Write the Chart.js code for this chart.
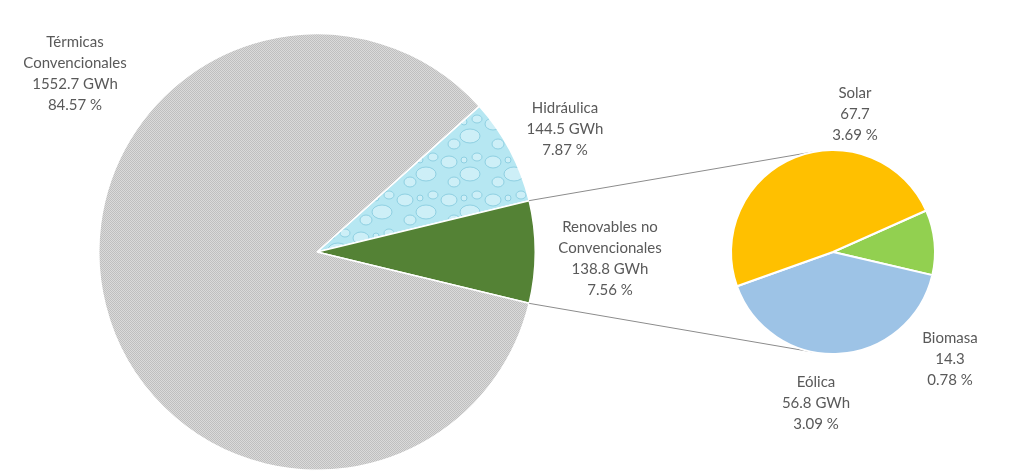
<!DOCTYPE html>
<html>
<head>
<meta charset="utf-8">
<script src="https://cdn.jsdelivr.net/npm/chart.js@4.4.1/dist/chart.umd.min.js"></script>
<style>
  html, body { margin: 0; padding: 0; background: #fff; }
  #wrap { position: relative; width: 1024px; height: 472px; }
  #wrap canvas { position: absolute; left: 0; top: 0; }
</style>
</head>
<body>
<div id="wrap">
  <canvas id="main-pie" width="1024" height="472"></canvas>
  <canvas id="sub-pie" width="1024" height="472"></canvas>
</div>
<script>
const mainLabels = ["Hidráulica", ["Renovables no", "Convencionales"], ["Térmicas", "Convencionales"]];
const mainValues = [144.5, 138.8, 1552.7];
const subLabels = ["Biomasa", "Eólica", "Solar"];
const subValues = [14.3, 56.8, 67.7];
const subUnits = ["", " GWh", ""];

const total = mainValues.reduce((a, b) => a + b, 0);

// where each text block sits (centre x, first line y)
const mainSpots = [[565, 108], [610, 227], [75, 42]];
const subSpots = [[950, 338], [816, 382], [855, 93]];
const lineStep = 21;

const dotPattern = () => {
  const c = document.createElement("canvas");
  c.width = 2;
  c.height = 2;
  const g = c.getContext("2d");
  g.fillStyle = "#dadada";
  g.fillRect(0, 0, 2, 2);
  g.fillStyle = "#bfbfbf";
  g.fillRect(0, 0, 1, 1);
  g.fillRect(1, 1, 1, 1);
  return g.createPattern(c, "repeat");
};

const waterPattern = () => {
  const c = document.createElement("canvas");
  c.width = 44;
  c.height = 38;
  const g = c.getContext("2d");
  g.fillStyle = "#b6e7f2";
  g.fillRect(0, 0, 44, 38);
  const drops = [[9, 10, 8, 6], [30, 22, 10, 7], [14, 30, 6, 5], [37, 5, 5, 4], [24, 8, 3, 3]];
  drops.forEach(([x, y, rx, ry]) => {
    g.beginPath();
    g.ellipse(x, y, rx, ry, 0, 0, Math.PI * 2);
    g.fillStyle = "#cdeff7";
    g.fill();
    g.strokeStyle = "#8fd0e2";
    g.lineWidth = 1;
    g.stroke();
  });
  return g.createPattern(c, "repeat");
};

const textPlugin = (spots, linesFor) => ({
  id: "sliceText",
  afterDraw(chart) {
    const ctx = chart.ctx;
    ctx.save();
    ctx.font = "15px Lato";
    ctx.fillStyle = "#595959";
    ctx.textAlign = "center";
    ctx.textBaseline = "middle";
    spots.forEach(([x, y], i) => {
      linesFor(i).forEach((line, k) => {
        ctx.fillText(line, x, y + k * lineStep);
      });
    });
    ctx.restore();
  },
});

const pct = (v) => (v / total * 100).toFixed(2) + " %";

// the "Renovables" slice is centred on the right side, like Excel's pie of pie
const renovAngle = mainValues[1] / total * 360;
const hidroAngle = mainValues[0] / total * 360;
const mainRotation = 90 - renovAngle / 2 - hidroAngle;

const mainChart = new Chart(document.getElementById("main-pie"), {
  type: "pie",
  data: {
    labels: mainLabels,
    datasets: [
      {
        data: mainValues,
        backgroundColor: [waterPattern(), "#548235", dotPattern()],
        borderColor: "#ffffff",
        borderWidth: 1.5,
      },
    ],
  },
  options: {
    responsive: false,
    animation: false,
    rotation: mainRotation,
    layout: { padding: { left: 98, right: 488, top: 33, bottom: 1 } },
    plugins: { legend: { display: false }, tooltip: { enabled: false } },
  },
  plugins: [
    textPlugin(mainSpots, (i) => {
      const name = Array.isArray(mainLabels[i]) ? mainLabels[i] : [mainLabels[i]];
      return [...name, mainValues[i].toFixed(1) + " GWh", pct(mainValues[i])];
    }),
  ],
});

const connectorPlugin = {
  id: "connector",
  beforeDatasetsDraw(chart) {
    const src = mainChart.getDatasetMeta(0).data[1];
    const dst = chart.getDatasetMeta(0).data[0];
    const ctx = chart.ctx;
    const tilt = 0.17;
    const ends = [
      [src.startAngle, -Math.PI / 2 - tilt],
      [src.endAngle, Math.PI / 2 + tilt],
    ];
    ctx.save();
    ctx.strokeStyle = "#8c8c8c";
    ctx.lineWidth = 1;
    ends.forEach(([a, b]) => {
      ctx.beginPath();
      ctx.moveTo(src.x + src.outerRadius * Math.cos(a), src.y + src.outerRadius * Math.sin(a));
      ctx.lineTo(dst.x + dst.outerRadius * Math.cos(b), dst.y + dst.outerRadius * Math.sin(b));
      ctx.stroke();
    });
    ctx.restore();
  },
};

new Chart(document.getElementById("sub-pie"), {
  type: "pie",
  data: {
    labels: subLabels,
    datasets: [
      {
        data: subValues,
        backgroundColor: ["#92d050", "#9dc3e6", "#ffc000"],
        borderColor: "#ffffff",
        borderWidth: 2,
      },
    ],
  },
  options: {
    responsive: false,
    animation: false,
    rotation: 66,
    layout: { padding: { left: 730, right: 88, top: 148, bottom: 116 } },
    plugins: { legend: { display: false }, tooltip: { enabled: false } },
  },
  plugins: [
    connectorPlugin,
    textPlugin(subSpots, (i) => [
      subLabels[i],
      subValues[i].toFixed(1) + subUnits[i],
      pct(subValues[i]),
    ]),
  ],
});
</script>
</body>
</html>
